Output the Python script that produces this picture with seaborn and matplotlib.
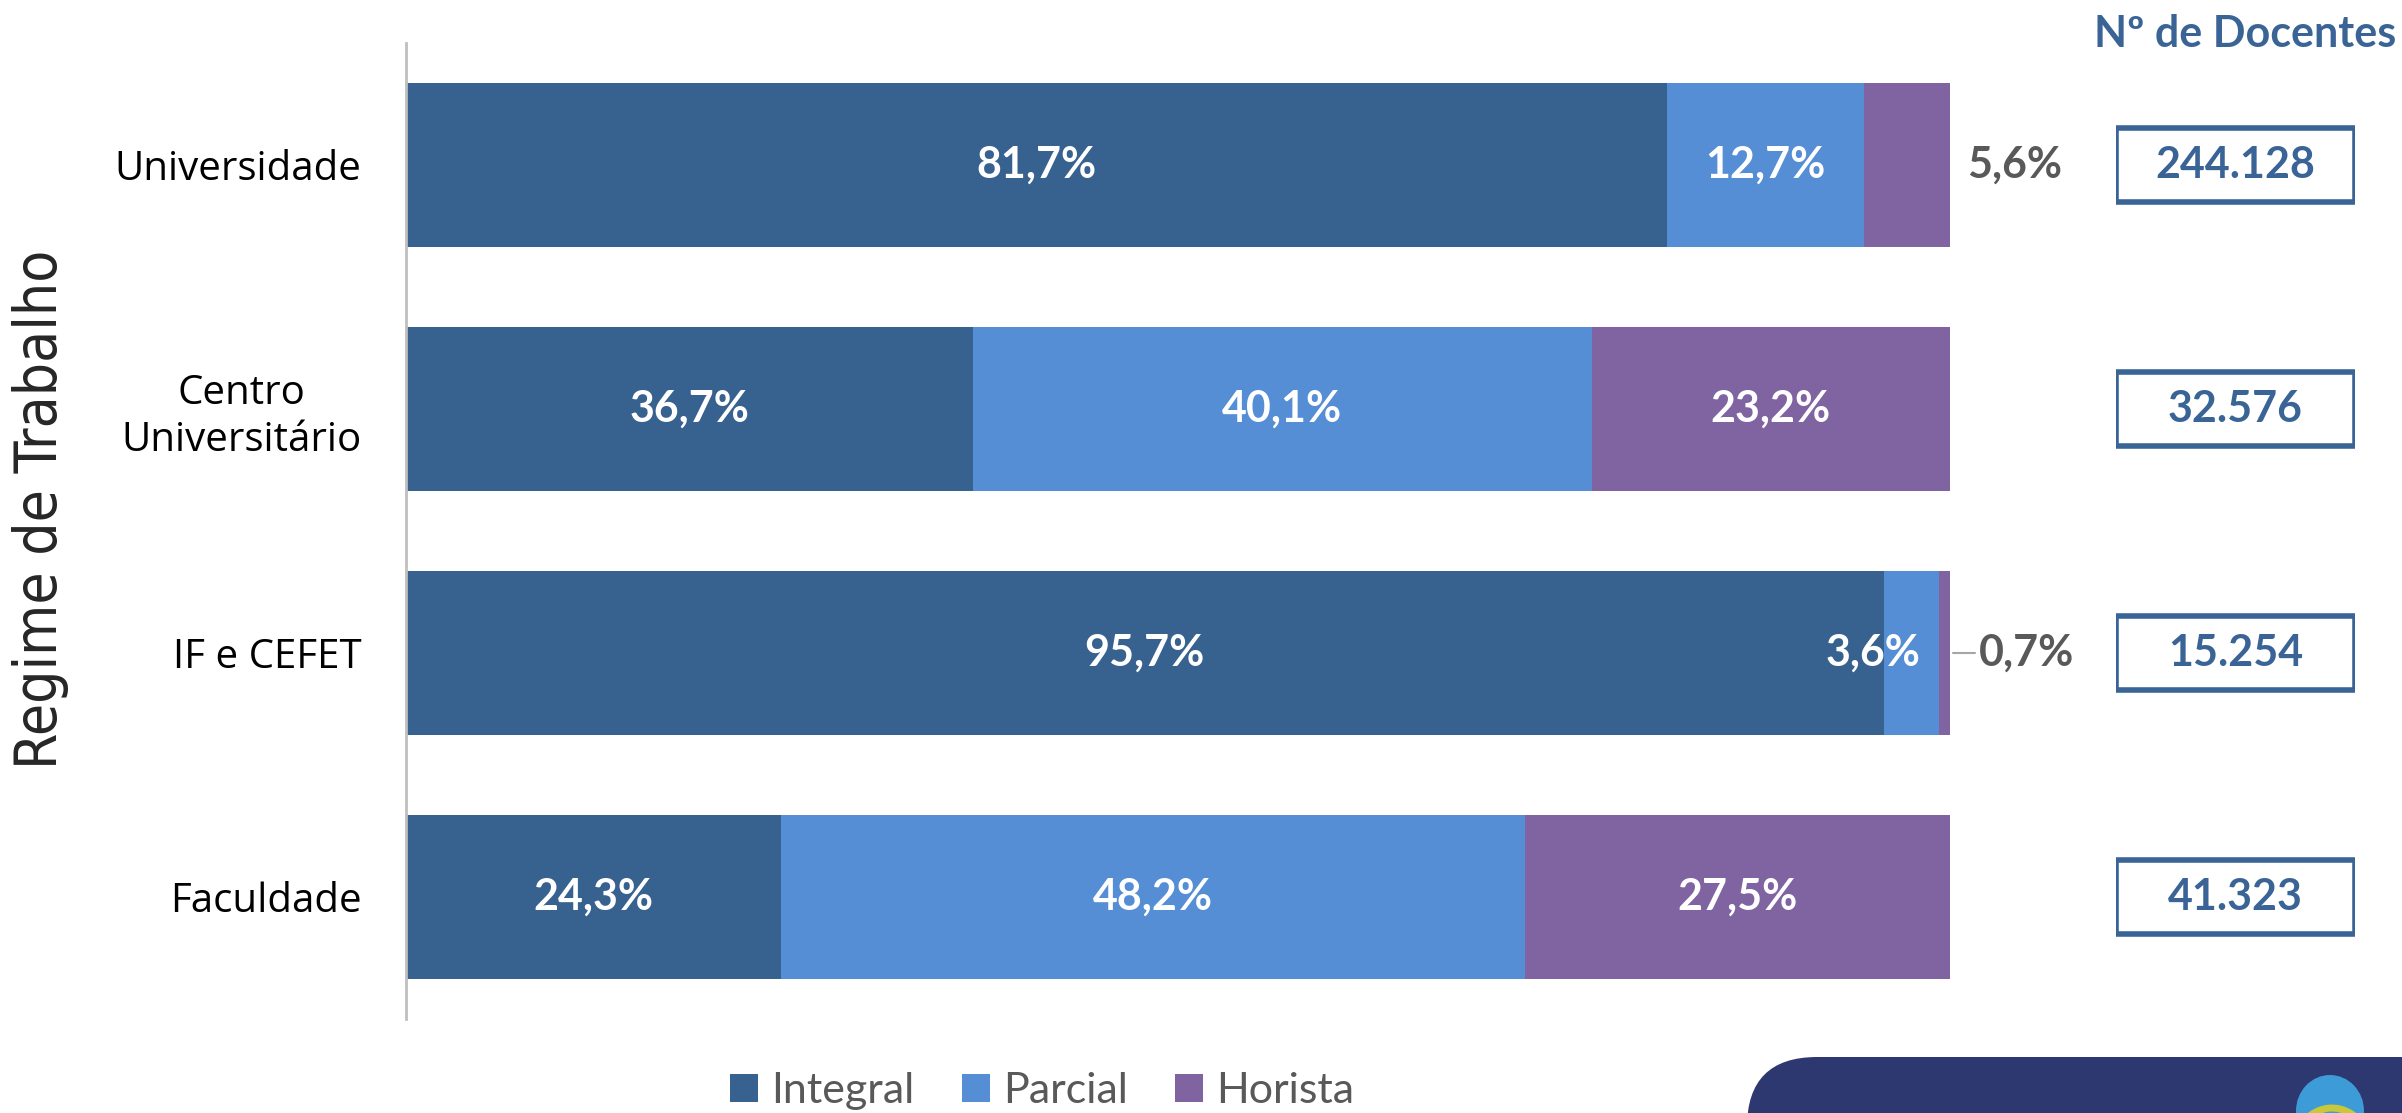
import matplotlib
matplotlib.use("Agg")
import matplotlib.pyplot as plt
from matplotlib.patches import Rectangle, FancyBboxPatch, Ellipse, Patch, Arc
import seaborn as sns
import pandas as pd
import numpy as np

# ---- data ----
categories = ['Universidade', 'Centro\nUniversitário', 'IF e CEFET', 'Faculdade']
integral = [81.7, 36.7, 95.7, 24.3]
parcial = [12.7, 40.1, 3.6, 48.2]
horista = [5.6, 23.2, 0.7, 27.5]
docentes = ['244.128', '32.576', '15.254', '41.323']
series_names = ['Integral', 'Parcial', 'Horista']
colors = ['#37618F', '#558ED5', '#8064A2']

sns.set_style('white')
plt.rcParams['font.family'] = ['Lato', 'DejaVu Sans']

W, H = 2402, 1113
fig = plt.figure(figsize=(W / 100, H / 100), dpi=100)
ax = fig.add_axes([406 / W, 1 - 1019 / H, (1950 - 406) / W, (1019 - 43) / H])

df = pd.DataFrame({'cat': categories, 'Integral': integral,
                   'Parcial': parcial, 'Horista': horista})
df['c1'] = df['Integral']
df['c2'] = df['Integral'] + df['Parcial']
df['c3'] = df['c2'] + df['Horista']

for col, colr in zip(['c3', 'c2', 'c1'], colors[::-1]):
    sns.barplot(data=df, x=col, y='cat', orient='h', color=colr,
                width=0.67, saturation=1, ax=ax, linewidth=0)

ax.set_xlim(0, 100)
ax.set_ylim(3.5, -0.5)
ax.set_xlabel('')
ax.set_ylabel('Regime de Trabalho', fontsize=42, family=['DejaVu Sans'],
              fontstretch='condensed')
ax.yaxis.set_label_coords((69 - 406) / 1544, (1019 - 509) / 976)
ax.set_xticks([])
ax.tick_params(axis='y', length=0, pad=32)
for lab in ax.get_yticklabels():
    lab.set_fontsize(29)
    lab.set_family(['Open Sans', 'DejaVu Sans'])
    lab.set_ha('right')
    lab.set_multialignment('center')
    lab.set_color('black')
for s in ['top', 'right', 'bottom']:
    ax.spines[s].set_visible(False)
ax.spines['left'].set_color('#BFBFBF')
ax.spines['left'].set_linewidth(2)

def fmt(v):
    return f"{v:.1f}".replace('.', ',') + '%'

for i in range(len(categories)):
    starts = [0, integral[i], integral[i] + parcial[i]]
    vals = [integral[i], parcial[i], horista[i]]
    for j, (s, v) in enumerate(zip(starts, vals)):
        if v >= 8:
            ax.text(s + v / 2, i, fmt(v), ha='center', va='center', color='white',
                    fontsize=31, fontweight='bold')
        elif j == 1:
            ax.text(s + v - 1.2, i, fmt(v), ha='right', va='center', color='white',
                    fontsize=31, fontweight='bold')
        else:
            end = s + v
            if v < 2:
                ax.plot([end + 0.2, end + 1.6], [i, i], color='#A6A6A6', lw=1.5,
                        clip_on=False)
                xt = end + 1.9
            else:
                xt = end + 1.1
            ax.text(xt, i, fmt(v), ha='left', va='center', color='#595959',
                    fontsize=31, fontweight='bold', clip_on=False)

# ---- boxes with number of teachers ----
ax2 = fig.add_axes([2116 / W, 1 - 1019 / H, (2355 - 2116) / W, (1019 - 43) / H])
ax2.set_xlim(0, 1)
ax2.set_ylim(3.5, -0.5)
ax2.axis('off')
for i, d in enumerate(docentes):
    ax2.add_patch(Rectangle((0, i - 0.15), 1, 0.30, facecolor='white',
                            edgecolor='#3A6495', linewidth=4))
    ax2.text(0.5, i, d, ha='center', va='center', color='#3A6495',
             fontsize=31, fontweight='bold')
fig.text(2396 / W, 1 - 34 / H, 'Nº de Docentes', ha='right', va='center',
         color='#3A6495', fontsize=31, fontweight='bold')

# ---- legend ----
handles = [Patch(facecolor=c, edgecolor='none') for c in colors]
fig.legend(handles, series_names, loc='center', bbox_to_anchor=(1042 / W, 1 - 1091 / H),
           ncol=3, frameon=False, fontsize=31, labelcolor='#595959',
           handlelength=0.65, handleheight=0.65, handletextpad=0.3, columnspacing=1.1)

# ---- decorative footer shape ----
inch = fig.dpi_scale_trans
fig.patches.append(FancyBboxPatch((17.47 + 0.7, -2), 10, (1113 - 1057) / 100 + 2 - 0.7,
                                  boxstyle='round,pad=0.7', facecolor='#2E3870',
                                  edgecolor='none', transform=inch, figure=fig))
fig.patches.append(Ellipse((23.30, 0.02), 0.68, 0.72, facecolor='#3D9BD8',
                           edgecolor='none', transform=inch, figure=fig))
fig.patches.append(Arc((23.32, -0.55), 0.9, 1.2, theta1=40, theta2=150,
                       edgecolor='#C8C83A', linewidth=5, transform=inch, figure=fig))

fig.savefig('out.png', dpi=100)
